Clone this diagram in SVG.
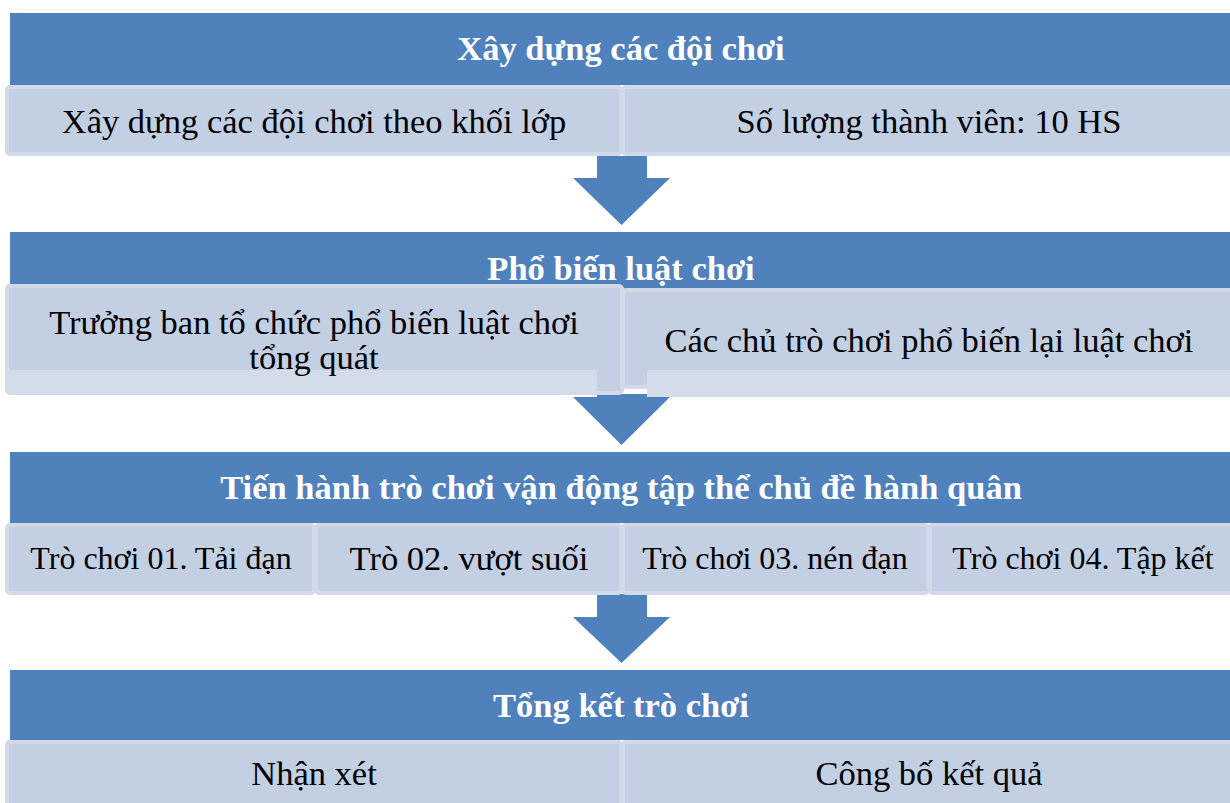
<svg xmlns="http://www.w3.org/2000/svg" width="1230" height="803" viewBox="0 0 1230 803">
<style>
.hdr{fill:#4f81bd}
.sub{fill:#c3cfe3;stroke:#d2daea;stroke-width:4}
.strip{fill:#d4dcea}
.arrow{fill:#4f81bd}
.ht{font-family:"Liberation Serif","Times New Roman",serif;font-weight:bold;font-size:34.5px;fill:#ffffff;text-anchor:middle}
.st{font-family:"Liberation Serif","Times New Roman",serif;font-size:34.5px;fill:#000000;text-anchor:middle}
.sm{font-size:32px}
</style>
<g id="connectors">
<path class="arrow" d="M597,156 H647 V178 H670 L621.5,225 L573,178 H597 Z"/>
<path class="arrow" d="M597,394 H647 V397 H670 L621.5,445 L573,397 H597 Z"/>
<path class="arrow" d="M597,594 H647 V617 H670 L621.5,663 L573,617 H597 Z"/>
</g>
<g id="step1">
<rect class="hdr" x="10" y="13" width="1222" height="72"/>
<text class="ht" x="621" y="60">Xây dựng các đội chơi</text>
</g>
<g id="step1-a">
<rect class="sub" x="7" y="87" width="614" height="67" rx="3"/>
<text class="st" x="314" y="133">Xây dựng các đội chơi theo khối lớp</text>
</g>
<g id="step1-b">
<rect class="sub" x="623" y="87" width="612" height="67" rx="3"/>
<text class="st" x="929" y="133">Số lượng thành viên: 10 HS</text>
</g>
<g id="step2">
<rect class="hdr" x="10" y="232" width="1222" height="60"/>
<text class="ht" x="621" y="280">Phổ biến luật chơi</text>
</g>
<g id="step2-a">
<rect class="sub" x="7" y="286" width="615" height="107" rx="3"/>
<rect class="strip" x="7" y="370" width="590" height="25" rx="2"/>
<text class="st" x="314" y="334">Trưởng ban tổ chức phổ biến luật chơi</text>
<text class="st" x="314" y="369">tổng quát</text>
</g>
<g id="step2-b">
<rect class="sub" x="623" y="290" width="612" height="97" rx="3"/>
<rect class="strip" x="647" y="370" width="590" height="27" rx="2"/>
<text class="st" x="929" y="352">Các chủ trò chơi phổ biến lại luật chơi</text>
</g>
<g id="step3">
<rect class="hdr" x="10" y="452" width="1222" height="71"/>
<text class="ht" x="621" y="499">Tiến hành trò chơi vận động tập thể chủ đề hành quân</text>
</g>
<g id="step3-a">
<rect class="sub" x="7" y="525" width="307" height="68" rx="3"/>
<text class="st sm" x="161" y="569">Trò chơi 01. Tải đạn</text>
</g>
<g id="step3-b">
<rect class="sub" x="316" y="525" width="305" height="68" rx="3"/>
<text class="st" x="469" y="570">Trò 02. vượt suối</text>
</g>
<g id="step3-c">
<rect class="sub" x="623" y="525" width="305" height="68" rx="3"/>
<text class="st sm" x="775" y="569">Trò chơi 03. nén đạn</text>
</g>
<g id="step3-d">
<rect class="sub" x="930" y="525" width="305" height="68" rx="3"/>
<text class="st sm" x="1083" y="569">Trò chơi 04. Tập kết</text>
</g>
<g id="step4">
<rect class="hdr" x="10" y="670" width="1222" height="70"/>
<text class="ht" x="621" y="717">Tổng kết trò chơi</text>
</g>
<g id="step4-a">
<rect class="sub" x="7" y="742" width="614" height="70" rx="3"/>
<text class="st" x="314" y="785">Nhận xét</text>
</g>
<g id="step4-b">
<rect class="sub" x="623" y="742" width="612" height="70" rx="3"/>
<text class="st" x="929" y="785">Công bố kết quả</text>
</g>
</svg>
